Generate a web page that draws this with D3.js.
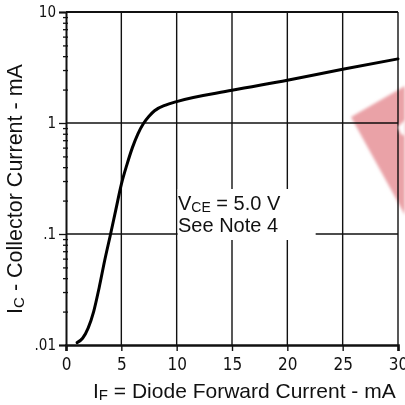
<!DOCTYPE html>
<html>
<head>
<meta charset="utf-8">
<script src="https://cdn.jsdelivr.net/npm/d3@7"></script>
<style>
  body { margin: 0; background: #fff; }
  .tick text { font-family: "Liberation Sans Narrow", "DejaVu Sans Condensed", sans-serif; font-stretch: condensed; fill: #111; }
  .title { font-family: "Liberation Sans", Arial, sans-serif; fill: #111; }
</style>
</head>
<body>
<div id="chart"></div>
<script>
// forward current IF (mA) vs collector current IC (mA), VCE = 5.0 V
const ifValues = [1, 1.5, 2, 2.5, 3, 3.5, 4, 4.5, 5, 5.5, 6, 6.5, 7, 7.5, 8, 9, 10, 15, 20, 25, 30]
const icValues = [0.0105, 0.0115, 0.0142, 0.02, 0.033, 0.058, 0.097, 0.165, 0.28, 0.42, 0.6, 0.8, 0.99, 1.15, 1.29, 1.45, 1.56, 1.97, 2.43, 3.05, 3.78]

const xTicks = [0, 5, 10, 15, 20, 25, 30]
const yMajor = [0.01, 0.1, 1, 10]
const yLabels = [".01", ".1", "1", "10"]

const width = 405
const height = 405
const margin = { top: 12, right: 7, bottom: 60, left: 66 }

const svg = d3
  .select("#chart")
  .append("svg")
  .attr("width", width)
  .attr("height", height)

const x = d3.scaleLinear().domain([0, 30]).range([margin.left, width - margin.right])
const y = d3.scaleLog().domain([0.01, 10]).range([height - margin.bottom, margin.top])

// minor ticks on the log axis
const yAll = []
for (let d = 0.01; d < 10; d *= 10) {
  for (let k = 1; k < 10; k++) yAll.push(+(d * k).toPrecision(3))
}
yAll.push(10)

// grid lines
const grid = svg.append("g").attr("stroke", "#111").attr("stroke-width", 1.4)
grid
  .selectAll("line.v")
  .data(xTicks.slice(1))
  .join("line")
  .attr("x1", (d) => x(d))
  .attr("x2", (d) => x(d))
  .attr("y1", y(10))
  .attr("y2", y(0.01))
grid
  .selectAll("line.h")
  .data([0.1, 1, 10])
  .join("line")
  .attr("x1", x(0))
  .attr("x2", x(30))
  .attr("y1", (d) => y(d))
  .attr("y2", (d) => y(d))
  .attr("stroke-width", (d) => (d === 10 ? 2 : 1.4))

// white box behind the annotation
svg
  .append("rect")
  .attr("x", x(10) + 1)
  .attr("y", 189)
  .attr("width", 138)
  .attr("height", 51)
  .attr("fill", "#fff")

// left axis
const yAxis = svg
  .append("g")
  .attr("transform", `translate(${x(0)},0)`)
  .call(
    d3
      .axisLeft(y)
      .tickValues(yAll)
      .tickSize(7)
      .tickPadding(3)
      .tickFormat((d) => {
        const i = yMajor.indexOf(d)
        return i >= 0 ? yLabels[i] : ""
      })
  )
yAxis.select(".domain").attr("stroke", "#111").attr("stroke-width", 2)
yAxis
  .selectAll(".tick line")
  .attr("stroke", "#111")
  .attr("stroke-width", 1.3)
  .attr("x1", (d) => (yMajor.includes(d) ? 0 : 2))
  .attr("x2", (d) => (yMajor.includes(d) ? -7 : -3))
yAxis.selectAll(".tick text").attr("font-size", 15)

// bottom axis
const xAxis = svg
  .append("g")
  .attr("transform", `translate(0,${y(0.01)})`)
  .call(d3.axisBottom(x).tickValues(xTicks).tickSize(6).tickPadding(7))
xAxis.select(".domain").attr("stroke", "#111").attr("stroke-width", 2.6)
xAxis.selectAll(".tick line").attr("stroke", "#111").attr("stroke-width", 1.4)
xAxis.selectAll(".tick text").attr("font-size", 17)

// curve
const line = d3
  .line()
  .x((d, i) => x(ifValues[i]))
  .y((d) => y(d))
  .curve(d3.curveMonotoneX)

svg
  .append("path")
  .datum(icValues)
  .attr("d", line)
  .attr("fill", "none")
  .attr("stroke", "#000")
  .attr("stroke-width", 3)
  .attr("stroke-linecap", "round")

// annotation
const note = svg.append("g").attr("class", "title").attr("font-size", 20)
const t1 = note.append("text").attr("x", 178).attr("y", 210)
t1.append("tspan").text("V")
t1.append("tspan").attr("font-size", 14).attr("dy", 2).text("CE")
t1.append("tspan").attr("dy", -2).text(" = 5.0 V")
note.append("text").attr("x", 178).attr("y", 232).text("See Note 4")

// axis titles
const xt = svg
  .append("text")
  .attr("class", "title")
  .attr("x", 93)
  .attr("y", 398)
  .attr("font-size", 21)
xt.append("tspan").text("I")
xt.append("tspan").attr("font-size", 15).attr("dy", 2).text("F")
xt.append("tspan").attr("dy", -2).text(" = Diode Forward Current - mA")

const yt = svg
  .append("text")
  .attr("class", "title")
  .attr("transform", "translate(22,189) rotate(-90)")
  .attr("text-anchor", "middle")
  .attr("font-size", 21.5)
yt.append("tspan").text("I")
yt.append("tspan").attr("font-size", 15).attr("dy", 2).text("C")
yt.append("tspan").attr("dy", -2).text(" - Collector Current - mA")

// pink scan mark on the right edge
const defs = svg.append("defs")
defs.append("filter").attr("id", "soft").append("feGaussianBlur").attr("stdDeviation", 1.5)
svg
  .append("polygon")
  .attr("points", "351,117 405,86 405,215")
  .attr("fill", "rgb(234,162,167)")
  .attr("filter", "url(#soft)")
  .style("mix-blend-mode", "multiply")
svg
  .append("polygon")
  .attr("points", "398,127 405,120 405,136 401,134")
  .attr("fill", "#fff")
  .attr("filter", "url(#soft)")
</script>
</body>
</html>
